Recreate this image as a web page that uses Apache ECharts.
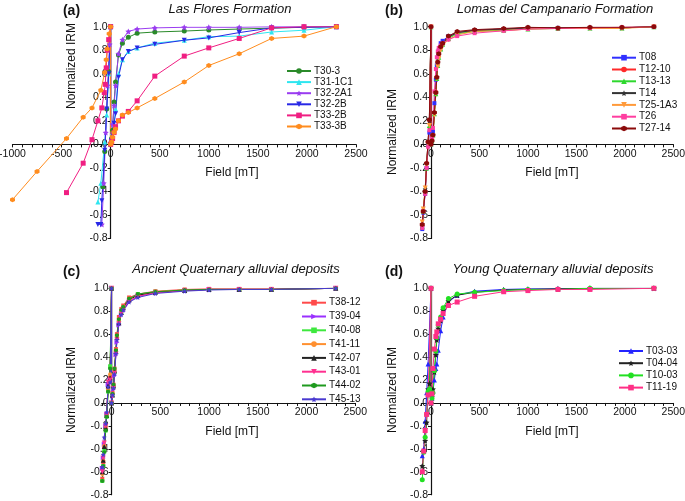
<!DOCTYPE html>
<html><head><meta charset="utf-8">
<script src="https://cdn.jsdelivr.net/npm/echarts@6/dist/echarts.min.js"></script>
<style>html,body{margin:0;padding:0;background:#fff}#c{width:685px;height:501px}</style>
</head><body><div id="c"></div>
<script>
// ---------- Panel (a) Las Flores Formation ----------
const fieldsA_IRM = [0,10,20,35,50,80,120,180,270,450,750,1000,1310,1640,1970,2300];
const A_T30_3_irm   = [0,0.05,0.12,0.36,0.53,0.76,0.86,0.91,0.945,0.955,0.963,0.972,0.98,0.988,0.995,1.0];
const A_T31_1C1_irm = [0,0.04,0.10,0.17,0.30,0.60,0.72,0.79,0.82,0.86,0.885,0.915,0.92,0.955,0.97,1.0];
const A_T32_2A1_irm = [0,0.04,0.17,0.33,0.50,0.77,0.89,0.96,0.98,0.99,0.995,0.995,0.995,1.0,1.0,1.0];
const A_T32_2B_irm  = [0,0.03,0.08,0.18,0.26,0.57,0.72,0.79,0.82,0.85,0.885,0.905,0.95,0.99,0.995,1.0];
const A_T33_2B_irm  = [0,0.02,0.05,0.10,0.15,0.20,0.24,0.28,0.37,0.58,0.75,0.82,0.90,0.99,1.0,1.0];
const A_T33_3B_irm  = [0,0.02,0.06,0.10,0.13,0.20,0.25,0.27,0.31,0.39,0.53,0.67,0.77,0.90,0.92,1.0];
const A_T30_3_bfF   = [-80,-60,-40,-20,0];
const A_T30_3_bf    = [-0.36,-0.06,0.30,0.62,1.0];
const A_T31_1C1_bfF = [-130,-100,-60,-40,-20,0];
const A_T31_1C1_bf  = [-0.49,-0.33,0.02,0.25,0.60,1.0];
const A_T32_2A1_bfF = [-90,-70,-50,-30,-10,0];
const A_T32_2A1_bf  = [-0.68,-0.33,0.10,0.50,0.85,1.0];
const A_T32_2B_bfF  = [-130,-100,-90,-60,-40,-20,0];
const A_T32_2B_bf   = [-0.68,-0.68,-0.48,-0.05,0.30,0.60,1.0];
const A_T33_2B_bfF  = [-450,-280,-190,-130,-90,-65,-55,-45,-35,-20,0];
const A_T33_2B_bf   = [-0.41,-0.16,0.04,0.20,0.31,0.44,0.51,0.65,0.80,0.89,1.0];
const A_T33_3B_bfF  = [-1000,-750,-450,-280,-190,-100,-60,-45,-35,-15,0];
const A_T33_3B_bf   = [-0.47,-0.23,0.05,0.23,0.31,0.46,0.61,0.72,0.81,0.94,1.0];

// ---------- Panel (b) Lomas del Campanario Formation ----------
const fieldsB_IRM = [0,10,20,35,50,60,70,80,100,120,180,270,450,750,1000,1310,1640,1970,2300];
const fieldsB_BF  = [-90,-80,-60,-45,-30,-17,0];
const B_T08_irm    = [0,0.04,0.11,0.35,0.55,0.67,0.74,0.80,0.86,0.88,0.92,0.95,0.97,0.98,0.99,0.99,0.99,0.99,1.0];
const B_T12_10_irm = [0,0.03,0.08,0.27,0.45,0.57,0.68,0.75,0.82,0.85,0.91,0.95,0.965,0.975,0.985,0.985,0.99,0.99,1.0];
const B_T13_13_irm = [0,0.03,0.08,0.26,0.43,0.56,0.67,0.74,0.81,0.85,0.90,0.94,0.96,0.97,0.98,0.985,0.99,0.99,1.0];
const B_T14_irm    = [0,0.03,0.08,0.27,0.44,0.57,0.69,0.76,0.82,0.86,0.91,0.95,0.97,0.98,0.99,0.99,0.99,0.99,1.0];
const B_T25_1A3_irm= [0,0.03,0.07,0.25,0.43,0.56,0.66,0.73,0.80,0.84,0.89,0.93,0.96,0.965,0.98,0.985,0.985,0.985,1.0];
const B_T26_irm    = [0,0.05,0.14,0.45,0.64,0.74,0.79,0.82,0.84,0.86,0.89,0.92,0.945,0.965,0.98,0.985,0.99,0.995,1.0];
const B_T27_14_irm = [0,0.03,0.08,0.27,0.44,0.57,0.70,0.77,0.83,0.86,0.92,0.96,0.975,0.985,0.995,0.99,0.995,0.995,1.0];
const B_T08_bf     = [-0.72,-0.58,-0.42,-0.20,0.00,0.10,1.0];
const B_T12_10_bf  = [-0.69,-0.56,-0.40,-0.16,0.02,0.20,1.0];
const B_T13_13_bf  = [-0.70,-0.57,-0.40,-0.20,0.00,0.16,1.0];
const B_T14_bf     = [-0.70,-0.56,-0.38,-0.16,0.02,0.20,1.0];
const B_T25_1A3_bf = [-0.66,-0.55,-0.37,-0.18,0.00,0.16,1.0];
const B_T26_bf     = [-0.71,-0.57,-0.42,-0.20,-0.02,0.12,1.0];
const B_T27_14_bf  = [-0.68,-0.57,-0.40,-0.16,0.02,0.21,1.0];

// ---------- Panel (c) Ancient Quaternary alluvial deposits ----------
const fieldsC_IRM = [0,10,20,30,45,55,75,100,120,180,270,450,750,1000,1310,1640,2300];
const fieldsC_BF  = [-95,-85,-75,-60,-50,-35,-15,0];
const C_T38_12_irm = [0,0.09,0.16,0.30,0.47,0.60,0.75,0.82,0.85,0.92,0.95,0.975,0.99,0.995,0.995,0.995,1.0];
const C_T39_04_irm = [0,0.06,0.12,0.24,0.42,0.53,0.68,0.77,0.80,0.88,0.93,0.96,0.98,0.99,0.99,0.99,1.0];
const C_T40_08_irm = [0,0.07,0.14,0.27,0.45,0.57,0.71,0.79,0.83,0.90,0.95,0.97,0.985,0.99,0.99,0.99,1.0];
const C_T41_11_irm = [0,0.08,0.15,0.29,0.46,0.58,0.72,0.80,0.84,0.91,0.94,0.97,0.985,0.99,0.99,0.99,1.0];
const C_T42_07_irm = [0,0.07,0.15,0.28,0.45,0.57,0.70,0.79,0.83,0.90,0.94,0.965,0.98,0.99,0.99,0.99,1.0];
const C_T43_01_irm = [0,0.06,0.13,0.26,0.43,0.55,0.69,0.78,0.82,0.89,0.93,0.96,0.98,0.99,0.99,0.99,1.0];
const C_T44_02_irm = [0,0.08,0.16,0.30,0.46,0.59,0.73,0.81,0.84,0.91,0.95,0.97,0.985,0.99,0.99,0.99,1.0];
const C_T45_13_irm = [0,0.07,0.13,0.25,0.43,0.55,0.69,0.77,0.81,0.88,0.92,0.955,0.975,0.985,0.99,0.99,1.0];
const C_T38_12_bf = [-0.66,-0.52,-0.38,-0.22,-0.10,0.14,0.22,1.0];
const C_T39_04_bf = [-0.57,-0.48,-0.36,-0.20,-0.10,0.16,0.20,1.0];
const C_T40_08_bf = [-0.68,-0.55,-0.42,-0.24,-0.12,0.10,0.32,1.0];
const C_T41_11_bf = [-0.62,-0.50,-0.37,-0.20,-0.10,0.12,0.25,1.0];
const C_T42_07_bf = [-0.60,-0.50,-0.38,-0.22,-0.11,0.15,0.22,1.0];
const C_T43_01_bf = [-0.60,-0.48,-0.35,-0.20,-0.10,0.18,0.20,1.0];
const C_T44_02_bf = [-0.68,-0.55,-0.43,-0.24,-0.12,0.10,0.30,1.0];
const C_T45_13_bf = [-0.56,-0.45,-0.30,-0.18,-0.08,0.14,0.18,1.0];

// ---------- Panel (d) Young Quaternary alluvial deposits ----------
const fieldsD_IRM = [0,10,20,35,50,60,75,100,125,180,270,450,750,1000,1310,1640,2300];
const fieldsD_BF  = [-90,-75,-60,-45,-30,-15,0];
const D_T03_03_irm = [0,0.04,0.10,0.20,0.30,0.34,0.46,0.63,0.75,0.88,0.94,0.975,0.99,0.995,0.995,1.0,1.0];
const D_T04_04_irm = [0,0.05,0.12,0.27,0.42,0.55,0.65,0.72,0.81,0.89,0.94,0.965,0.985,0.99,0.995,1.0,1.0];
const D_T10_03_irm = [0,0.04,0.09,0.28,0.45,0.57,0.68,0.75,0.83,0.91,0.95,0.965,0.98,0.99,0.99,1.0,1.0];
const D_T11_19_irm = [0,0.08,0.30,0.47,0.58,0.62,0.69,0.73,0.78,0.85,0.88,0.93,0.97,0.98,0.99,0.99,1.0];
const D_T03_03_bf = [-0.46,-0.40,-0.16,0.09,0.34,null,1.0];
const D_T04_04_bf = [-0.55,-0.42,-0.33,-0.17,0.12,0.17,1.0];
const D_T10_03_bf = [-0.67,-0.43,-0.30,-0.10,0.10,0.12,1.0];
const D_T11_19_bf = [-0.60,-0.42,-0.24,-0.10,0.07,null,1.0];

// ---------- axis ranges / tick labels ----------
const yTicks = [-0.8,-0.6,-0.4,-0.2,0.0,0.2,0.4,0.6,0.8,1.0];
const xMins = [-1000,-100,-100,-100];
const xMax = 2500;
const xTickStep = 500;

const STAR = 'path://M0,-10L2.9,-4L9.5,-3.1L4.7,1.5L5.9,8.1L0,5L-5.9,8.1L-4.7,1.5L-9.5,-3.1L-2.9,-4Z';
const HEX = 'path://M0,-10L8.7,-5L8.7,5L0,10L-8.7,5L-8.7,-5Z';

function pairs(f, v){ return f.map((x,i)=>[x, v[i]]); }
function mk(name, color, symbol, gi, bfF, bfV, irmF, irmV, rot, size){
  return {
    type:'line', name, xAxisIndex:gi, yAxisIndex:gi,
    data: pairs(bfF,bfV).concat(pairs(irmF,irmV)),
    connectNulls:true,
    symbol, symbolSize: size||5, symbolRotate: rot||0,
    showAllSymbol:true,
    lineStyle:{color, width:1},
    itemStyle:{color, borderWidth:0},
    z: 3
  };
}

const series = [
  mk('T30-3','#2a8a2a','circle',0,A_T30_3_bfF,A_T30_3_bf,fieldsA_IRM,A_T30_3_irm),
  mk('T31-1C1','#2ee6f0','triangle',0,A_T31_1C1_bfF,A_T31_1C1_bf,fieldsA_IRM,A_T31_1C1_irm),
  mk('T32-2A1','#9a3cf0',STAR,0,A_T32_2A1_bfF,A_T32_2A1_bf,fieldsA_IRM,A_T32_2A1_irm,0,6),
  mk('T32-2B','#2828e6','triangle',0,A_T32_2B_bfF,A_T32_2B_bf,fieldsA_IRM,A_T32_2B_irm,180),
  mk('T33-2B','#f01e82','rect',0,A_T33_2B_bfF,A_T33_2B_bf,fieldsA_IRM,A_T33_2B_irm),
  mk('T33-3B','#ff8c1e',HEX,0,A_T33_3B_bfF,A_T33_3B_bf,fieldsA_IRM,A_T33_3B_irm),

  mk('T08','#3030ff','rect',1,fieldsB_BF,B_T08_bf,fieldsB_IRM,B_T08_irm,0,4),
  mk('T12-10','#ff2a2a','circle',1,fieldsB_BF,B_T12_10_bf,fieldsB_IRM,B_T12_10_irm,0,4),
  mk('T13-13','#2ed82e','triangle',1,fieldsB_BF,B_T13_13_bf,fieldsB_IRM,B_T13_13_irm,0,5),
  mk('T14','#333333',STAR,1,fieldsB_BF,B_T14_bf,fieldsB_IRM,B_T14_irm,0,5),
  mk('T25-1A3','#ff9a3a','triangle',1,fieldsB_BF,B_T25_1A3_bf,fieldsB_IRM,B_T25_1A3_irm,180,5),
  mk('T26','#ff3ea0','rect',1,fieldsB_BF,B_T26_bf,fieldsB_IRM,B_T26_irm,0,4),
  mk('T27-14','#8b0a0a',HEX,1,fieldsB_BF,B_T27_14_bf,fieldsB_IRM,B_T27_14_irm,0,5),

  mk('T38-12','#ff4a4a','rect',2,fieldsC_BF,C_T38_12_bf,fieldsC_IRM,C_T38_12_irm,0,4),
  mk('T39-04','#9a30ff','triangle',2,fieldsC_BF,C_T39_04_bf,fieldsC_IRM,C_T39_04_irm,-90,5),
  mk('T40-08','#3ee83e','rect',2,fieldsC_BF,C_T40_08_bf,fieldsC_IRM,C_T40_08_irm,0,4),
  mk('T41-11','#ff9030','circle',2,fieldsC_BF,C_T41_11_bf,fieldsC_IRM,C_T41_11_irm,0,4),
  mk('T42-07','#222222','triangle',2,fieldsC_BF,C_T42_07_bf,fieldsC_IRM,C_T42_07_irm,0,5),
  mk('T43-01','#ff3090','triangle',2,fieldsC_BF,C_T43_01_bf,fieldsC_IRM,C_T43_01_irm,180,5),
  mk('T44-02','#1f9a1f',HEX,2,fieldsC_BF,C_T44_02_bf,fieldsC_IRM,C_T44_02_irm,0,4),
  mk('T45-13','#4a3ad0',STAR,2,fieldsC_BF,C_T45_13_bf,fieldsC_IRM,C_T45_13_irm,0,5),

  mk('T03-03','#2424ff','triangle',3,fieldsD_BF,D_T03_03_bf,fieldsD_IRM,D_T03_03_irm,0,5),
  mk('T04-04','#222222',STAR,3,fieldsD_BF,D_T04_04_bf,fieldsD_IRM,D_T04_04_irm,0,6),
  mk('T10-03','#22e022','circle',3,fieldsD_BF,D_T10_03_bf,fieldsD_IRM,D_T10_03_irm,0,5),
  mk('T11-19','#ff2f86','rect',3,fieldsD_BF,D_T11_19_bf,fieldsD_IRM,D_T11_19_irm,0,5)
];

const FONT = 'Liberation Sans, Arial, sans-serif';
const grids = [
  {left:12.5, top:26.7, width:343.5, height:211.8},
  {left:421.3, top:26.7, width:252, height:211.8},
  {left:101.8, top:288.3, width:253.5, height:206.4},
  {left:421.3, top:288.3, width:252, height:206.4}
];
const yMin = yTicks[0], yMax = yTicks[yTicks.length-1];

// axes cross at zero: shift each axis from its grid edge to the zero of the other axis
const xAxes = grids.map((g,i)=>({
  type:'value', gridIndex:i, min:xMins[i], max:xMax, interval:100, position:'bottom',
  offset: -(g.height * (0 - yMin) / (yMax - yMin)),
  axisLine:{onZero:false, lineStyle:{color:'#111', width:1.2}},
  axisTick:{length:3, lineStyle:{color:'#111'}},
  splitLine:{show:false},
  axisLabel:{fontSize:10.5, fontFamily:FONT, color:'#111', margin:4,
    formatter:v=> (v % xTickStep === 0) ? String(v) : ''}
}));
const yAxes = grids.map((g,i)=>({
  type:'value', gridIndex:i, min:yMin, max:yMax, interval:0.2, position:'left',
  offset: -(g.width * (0 - xMins[i]) / (xMax - xMins[i])),
  axisLine:{onZero:false, lineStyle:{color:'#111', width:1.2}},
  axisTick:{length:3, lineStyle:{color:'#111'}},
  splitLine:{show:false},
  axisLabel:{fontSize:10.5, fontFamily:FONT, color:'#111', margin:3,
    formatter:v=> (Math.abs(v)<1e-9?0:v).toFixed(1)}
}));
grids.forEach(g=>{ g.containLabel=false; g.outerBoundsMode='none'; });

const legendDefs = [
  {names:['T30-3','T31-1C1','T32-2A1','T32-2B','T33-2B','T33-3B'], left:286, top:66, gap:1.1},
  {names:['T08','T12-10','T13-13','T14','T25-1A3','T26','T27-14'], left:611, top:52.7, gap:1.8},
  {names:['T38-12','T39-04','T40-08','T41-11','T42-07','T43-01','T44-02','T45-13'], left:301, top:297.7, gap:3.8},
  {names:['T03-03','T04-04','T10-03','T11-19'], left:618, top:346, gap:2.2}
];
const legends = legendDefs.map(d=>({
  data:d.names, orient:'vertical', left:d.left, top:d.top, itemGap:d.gap,
  itemWidth:24, itemHeight:7, padding:0, selectedMode:false,
  textStyle:{fontSize:10, fontFamily:FONT, color:'#111', padding:[0,0,0,-2]}
}));

function txt(x,y,s,font,rot){
  return {type:'text', x, y, rotation: rot||0, silent:true,
    style:{text:s, font, fill:'#111', align:'center', verticalAlign:'middle'}};
}
const graphics = [
  txt(71.5,11,'(a)','bold 14px '+FONT),
  txt(230,9,'Las Flores Formation','italic 13px '+FONT),
  txt(394,11,'(b)','bold 14px '+FONT),
  txt(555,9,'Lomas del Campanario Formation','italic 13px '+FONT),
  txt(71.5,272,'(c)','bold 14px '+FONT),
  txt(236,269,'Ancient Quaternary alluvial deposits','italic 13px '+FONT),
  txt(394,272,'(d)','bold 14px '+FONT),
  txt(553,269,'Young Quaternary alluvial deposits','italic 13px '+FONT),
  txt(72,66,'Normalized IRM','12px '+FONT,Math.PI/2),
  txt(393,132,'Normalized IRM','12px '+FONT,Math.PI/2),
  txt(72,390,'Normalized IRM','12px '+FONT,Math.PI/2),
  txt(393,390,'Normalized IRM','12px '+FONT,Math.PI/2),
  txt(232,173,'Field [mT]','12px '+FONT),
  txt(552,173,'Field [mT]','12px '+FONT),
  txt(232,432,'Field [mT]','12px '+FONT),
  txt(552,432,'Field [mT]','12px '+FONT)
];

const chart = echarts.init(document.getElementById('c'), null, {renderer:'canvas'});
chart.setOption({
  animation:false, backgroundColor:'#fff',
  grid:grids, xAxis:xAxes, yAxis:yAxes, legend:legends,
  series, graphic:graphics
});
</script></body></html>
